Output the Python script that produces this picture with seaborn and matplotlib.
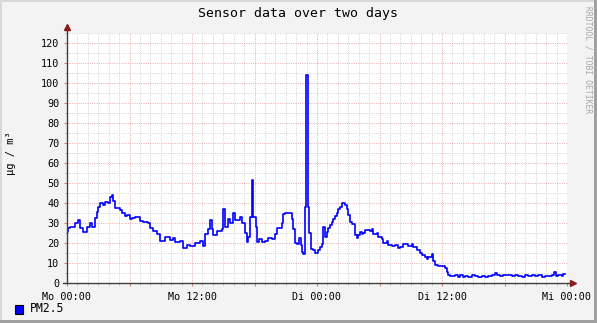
import matplotlib
matplotlib.use("Agg")
import matplotlib.pyplot as plt
from matplotlib.patches import Rectangle
from matplotlib.lines import Line2D
from matplotlib.ticker import MultipleLocator
import seaborn as sns
import pandas as pd

# ---- data (hours since Mo 00:00, PM2.5 in µg/m³) ----
hours = [0.0, 0.14, 0.29, 0.77, 1.08, 1.25, 1.56, 1.89, 2.21, 2.37, 2.69, 2.85, 3.0, 3.17,
         3.48, 3.65, 3.96, 4.13, 4.29, 4.44, 4.61, 5.09, 5.25, 5.57, 5.73, 6.05, 6.21, 6.53,
         7.01, 7.32, 7.80, 7.97, 8.28, 8.61, 8.93, 9.41, 9.89, 10.2, 10.37, 10.85, 11.16,
         11.49, 11.81, 12.29, 12.77, 13.08, 13.25, 13.56, 13.73, 13.89, 14.04, 14.37, 14.85,
         15.0, 15.17, 15.48, 15.65, 15.96, 16.13, 16.61, 16.77, 17.09, 17.25, 17.40, 17.57,
         17.73, 17.88, 18.14, 18.24, 18.43, 18.72, 19.01, 19.30, 19.68, 19.97, 20.16, 20.64,
         20.76, 20.93, 21.6, 21.72, 21.89, 22.05, 22.30, 22.44, 22.53, 22.68, 22.85, 22.94,
         23.16, 23.26, 23.40, 23.65, 23.84, 24.12, 24.29, 24.45, 24.60, 24.77, 24.93, 25.08,
         25.25, 25.41, 25.56, 25.73, 25.89, 26.04, 26.21, 26.37, 26.69, 26.85, 27.00, 27.17,
         27.33, 27.65, 27.81, 27.96, 28.13, 28.29, 28.44, 28.61, 29.09, 29.25, 29.40, 29.73,
         29.88, 30.21, 30.36, 30.69, 30.84, 31.17, 31.49, 31.80, 31.97, 32.28, 32.76, 33.09,
         33.24, 33.57, 33.89, 34.05, 34.37, 34.53, 34.68, 35.01, 35.16, 35.33, 35.64, 36.29,
         36.45, 36.60, 36.77, 37.25, 37.57, 37.73, 38.05, 38.21, 38.53, 38.85, 39.17, 39.49,
         39.81, 40.13, 40.45, 40.77, 41.09, 41.25, 41.57, 41.89, 42.69, 43.01, 43.33, 43.65,
         43.97, 44.29, 44.61, 44.93, 45.25, 45.57, 45.89, 46.53, 46.78, 46.91, 47.17, 47.49,
         47.65, 47.81]
pm25 = [25.5, 27.5, 28, 30, 31.5, 27.5, 25.5, 28, 30, 28, 32.5, 35.5, 38, 40,
        39, 40.5, 40, 43, 44, 41, 37.5, 36.5, 35, 33.5, 34, 32, 32.5, 33,
        31, 30.5, 30, 27.5, 26, 24.5, 21, 23, 21.5, 22.5, 20.5, 21, 17.5,
        19, 18.5, 20, 21, 18.5, 24.5, 27, 31.5, 27, 24, 26, 27,
        37, 28, 32, 30, 35, 31.5, 33, 30, 25, 20.5, 23, 33,
        51.5, 33, 28, 20.5, 22, 20.5, 21, 22.5, 22, 24.5, 27.5, 30,
        34.5, 35, 32, 27, 20, 19.5, 22.5, 19, 15.5, 14.5, 38, 104,
        38, 25, 17, 16.5, 15, 16.5, 18, 19.5, 28, 23, 25.5, 27.5,
        29, 30.5, 32, 33.5, 35, 37, 38, 40, 39, 37, 34, 30.5,
        29.5, 24, 22.5, 24, 25.5, 24.5, 25, 26.5, 26, 27, 24.5, 25,
        23, 22, 20, 21, 19, 18.5, 19, 17.5, 18, 19.5, 18.5, 19.5,
        18, 16.5, 15, 14, 13, 12, 13, 14.5, 11, 9, 8.5, 7.5,
        5.5, 4, 3.5, 4, 3, 4, 3, 3.5, 3, 4, 3.5, 3,
        3.5, 3, 3.5, 4, 5, 4, 3.5, 4, 3.5, 4, 3.5, 3,
        4, 3.5, 4, 3.5, 4, 3, 3.5, 4, 5.5, 3.5, 4, 3.5,
        4.5, 4.5]

tick_pos = [0, 12, 24, 36, 48]
tick_labels = ["Mo 00:00", "Mo 12:00", "Di 00:00", "Di 12:00", "Mi 00:00"]
y_ticks = list(range(0, 121, 10))

df = pd.DataFrame({"hour": hours, "pm": pm25})

W, H = 597, 323
fig = plt.figure(figsize=(W / 100, H / 100), dpi=100)
fig.patch.set_facecolor("#F3F3F3")
mono = "DejaVu Sans Mono"

x0, x1, y0, y1 = 67, 567, 283, 33
ax = fig.add_axes([x0 / W, 1 - y0 / H, (x1 - x0) / W, (y0 - y1) / H])
ax.set_facecolor("white")

sns.lineplot(data=df, x="hour", y="pm", ax=ax, color="#0000FF", lw=1.2,
             drawstyle="steps-post", estimator=None, legend=False, zorder=5)

ax.set_xlim(0, 48)
ax.set_ylim(0, 125)

ax.xaxis.set_minor_locator(MultipleLocator(1))
ax.yaxis.set_minor_locator(MultipleLocator(5))
ax.grid(which="minor", color="#D2D2D2", linestyle=(0, (1, 1.3)), lw=0.7)
ax.grid(which="major", color="#EAAAAA", linestyle=(0, (1, 1.3)), lw=0.7)
ax.set_axisbelow(True)

xt = list(range(0, 49, 6))
ax.set_xticks(xt)
ax.set_xticklabels([tick_labels[tick_pos.index(t)] if t in tick_pos else "" for t in xt],
                   fontfamily=mono, fontsize=7.3)
ax.set_yticks(y_ticks)
ax.set_yticklabels([str(v) for v in y_ticks], fontfamily=mono, fontsize=7.3)
ax.tick_params(which="major", length=2.5, width=0.8, color="#D88080", labelcolor="black")
ax.tick_params(which="minor", length=1.5, width=0.7, color="#B0B0B0")
ax.tick_params(axis="y", which="major", pad=3)
ax.tick_params(axis="x", which="major", pad=4)

for s in ["top", "right", "left", "bottom"]:
    ax.spines[s].set_visible(False)

# axes with arrows
axis_col = "#404040"
ax.add_line(Line2D([0, 0], [0, 1 + 4 / 250], transform=ax.transAxes, color=axis_col, lw=1, clip_on=False, zorder=6))
ax.add_line(Line2D([-4 / 500, 1 + 3 / 500], [0, 0], transform=ax.transAxes, color=axis_col, lw=1, clip_on=False, zorder=6))
ax.plot([0], [1 + 6 / 250], marker="^", color="#8B1A1A", ms=5, transform=ax.transAxes, clip_on=False, zorder=7)
ax.plot([1 + 6 / 500], [0], marker=">", color="#8B1A1A", ms=5, transform=ax.transAxes, clip_on=False, zorder=7)

ax.set_xlabel("")
ax.set_ylabel("µg / m³", fontfamily=mono, fontsize=7.5)
ax.yaxis.set_label_coords((16 - x0) / (x1 - x0), 0.52)

fig.text(298 / W, 1 - 14 / H, "Sensor data over two days", ha="center", va="center",
         fontfamily=mono, fontsize=9.5, color="black")
fig.text(588 / W, 1 - 60 / H, "RRDTOOL / TOBI OETIKER", rotation=270, ha="center", va="center",
         fontfamily=mono, fontsize=5.8, color="#A8A8A8")

# legend
fig.patches.append(Rectangle((15 / W, 1 - 314 / H), 8 / W, 9 / H, transform=fig.transFigure,
                             facecolor="#0000FF", edgecolor="black", lw=0.8))
fig.text(30 / W, 1 - 309 / H, "PM2.5", ha="left", va="center", fontfamily=mono, fontsize=8.3)

# frame (3D-like)
fig.patches.append(Rectangle((0, 0), 2 / W, 1, transform=fig.transFigure, facecolor="#D8D8D8", edgecolor="none"))
fig.patches.append(Rectangle((0, 1 - 2 / H), 1, 2 / H, transform=fig.transFigure, facecolor="#D8D8D8", edgecolor="none"))
fig.patches.append(Rectangle((1 - 3 / W, 0), 3 / W, 1, transform=fig.transFigure, facecolor="#A0A0A0", edgecolor="none"))
fig.patches.append(Rectangle((0, 0), 1, 3 / H, transform=fig.transFigure, facecolor="#A0A0A0", edgecolor="none"))

fig.savefig("out.png", dpi=100, facecolor=fig.get_facecolor())
